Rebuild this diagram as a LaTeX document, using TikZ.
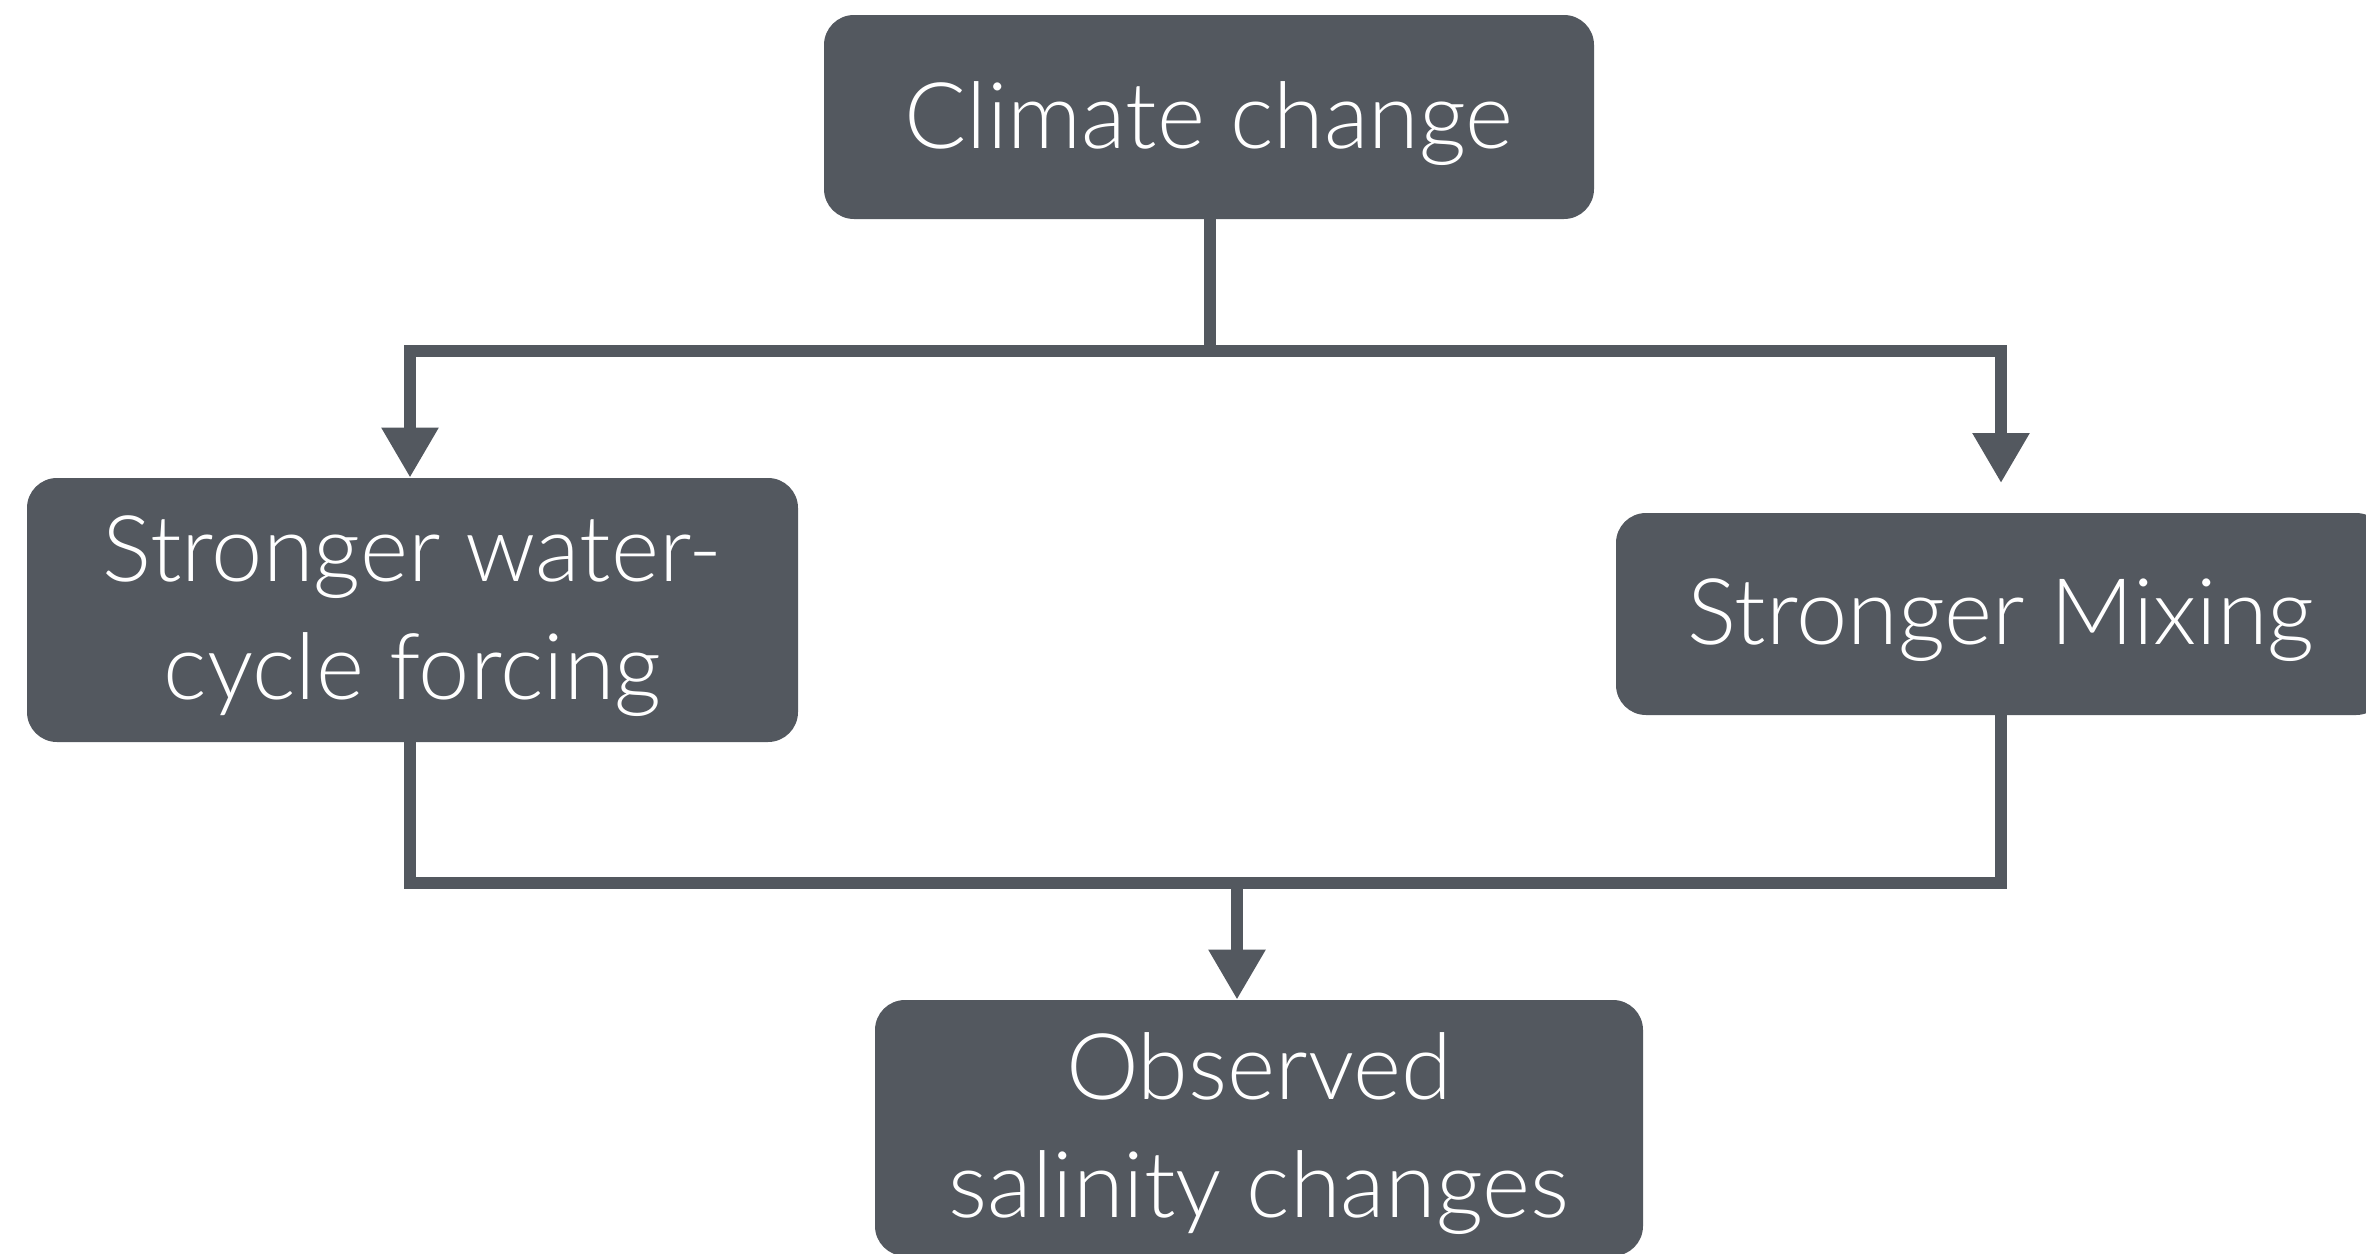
\documentclass[tikz,border=0pt]{standalone}
\usepackage{fontspec}
\setmainfont{Lato Light}
\usetikzlibrary{arrows.meta}
\definecolor{boxgray}{HTML}{53585F}
\tikzset{
  flowbox/.style={fill=boxgray, draw=none, rounded corners=15pt, inner sep=0pt},
  boxtext/.style={text=white, font=\fontsize{46}{59}\selectfont, align=center, inner sep=0pt},
  link/.style={draw=boxgray, line width=6pt},
  arrowlink/.style={link, -{Triangle[width=27pt,length=25pt]}},
}
\begin{document}
\begin{tikzpicture}[x=0.5pt,y=-0.5pt]
\useasboundingbox (0,0) rectangle (2366,1253);
\node[flowbox, minimum width=385pt, minimum height=102pt] (top) at (1209,117) {};
\node[flowbox, minimum width=385.5pt, minimum height=132pt] (left) at (412.5,610) {};
\node[flowbox, minimum width=385pt, minimum height=101pt] (right) at (2001,614) {};
\node[flowbox, minimum width=384pt, minimum height=128pt] (bottom) at (1259,1128) {};
\node[boxtext] (toptext) at ([yshift=-3.5pt]top.center) {Climate change};
\node[boxtext] (lefttext) at ([yshift=-3pt]left.center) {Stronger water-\\cycle forcing};
\node[boxtext] (righttext) at ([yshift=-3pt]right.center) {Stronger Mixing};
\node[boxtext] (bottomtext) at ([yshift=-3pt]bottom.center) {Observed\\salinity changes};
\coordinate (jt) at (1210,351);
\coordinate (jl) at (410,351);
\coordinate (jr) at (2001,351);
\coordinate (rtip) at (2001,483);
\coordinate (bl) at (410,883);
\coordinate (br) at (2001,883);
\coordinate (bm) at (1237,883);
\draw[link] (top.south -| jt) -- (jt);
\draw[link, line cap=rect] (jl) -- (jr);
\draw[arrowlink] (jl) -- (jl |- left.north);
\draw[arrowlink] (jr) -- (rtip);
\draw[link] (left.south -| bl) -- (bl);
\draw[link] (right.south -| br) -- (br);
\draw[link, line cap=rect] (bl) -- (br);
\draw[arrowlink] (bm) -- (bm |- bottom.north);
\end{tikzpicture}
\end{document}
